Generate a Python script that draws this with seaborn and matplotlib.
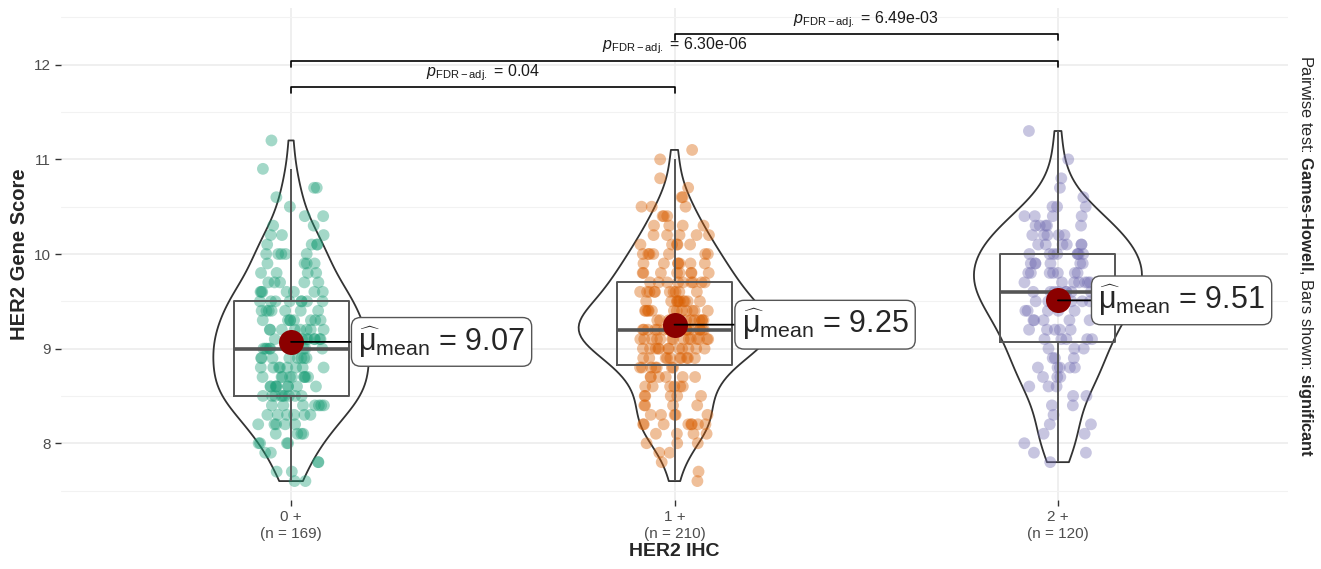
import numpy as np
import pandas as pd
import seaborn as sns
import matplotlib.pyplot as plt

groups = ["0 +", "1 +", "2 +"]

g0_values = [7.6, 7.7, 7.8, 7.9, 8.0, 8.1, 8.2, 8.3, 8.4, 8.5, 8.6, 8.7, 8.8, 8.9, 9.0, 9.1, 9.2,
             9.3, 9.4, 9.5, 9.6, 9.7, 9.8, 9.9, 10.0, 10.1, 10.2, 10.3, 10.4, 10.5, 10.6, 10.7, 10.9, 11.2]
g0_counts = [2, 2, 2, 2, 4, 4, 5, 6, 7, 9, 9, 9, 8, 8, 10, 9, 8,
             8, 7, 8, 7, 5, 4, 4, 5, 4, 3, 2, 2, 1, 1, 2, 1, 1]

g1_values = [7.6, 7.7, 7.8, 7.9, 8.0, 8.1, 8.2, 8.3, 8.4, 8.5, 8.6, 8.7, 8.8, 8.9, 9.0, 9.1, 9.2, 9.3,
             9.4, 9.5, 9.6, 9.7, 9.8, 9.9, 10.0, 10.1, 10.2, 10.3, 10.4, 10.5, 10.6, 10.7, 10.8, 11.0, 11.1]
g1_counts = [1, 1, 1, 2, 3, 4, 8, 5, 4, 5, 6, 6, 7, 10, 12, 14, 18, 14,
             12, 10, 10, 9, 8, 7, 7, 5, 5, 4, 3, 3, 2, 1, 1, 1, 1]

g2_values = [7.8, 7.9, 8.0, 8.1, 8.2, 8.3, 8.4, 8.5, 8.6, 8.7, 8.8, 8.9, 9.0, 9.1, 9.2, 9.3, 9.4,
             9.5, 9.6, 9.7, 9.8, 9.9, 10.0, 10.1, 10.2, 10.3, 10.4, 10.5, 10.6, 10.7, 10.8, 11.0, 11.3]
g2_counts = [1, 2, 1, 2, 2, 1, 2, 2, 3, 3, 5, 3, 3, 5, 5, 5, 5,
             6, 8, 7, 7, 6, 8, 6, 5, 5, 4, 3, 1, 1, 1, 1, 1]

# significant Games-Howell comparisons
pairs = [(0, 1), (0, 2), (1, 2)]
p_labels = ["0.04", "6.30e-06", "6.49e-03"]

colors = ["#1B9E77", "#D95F02", "#7570B3"]

values = [g0_values, g1_values, g2_values]
counts = [g0_counts, g1_counts, g2_counts]
df = pd.DataFrame({
    "HER2 IHC": np.repeat(groups, [sum(c) for c in counts]),
    "score": np.concatenate([np.repeat(v, c) for v, c in zip(values, counts)]),
})

sns.set_style("white")
plt.rcParams["font.family"] = ["Liberation Sans", "DejaVu Sans"]
plt.rcParams["mathtext.fontset"] = "custom"
plt.rcParams["mathtext.rm"] = "Liberation Sans"
plt.rcParams["mathtext.it"] = "Liberation Sans:italic"
plt.rcParams["mathtext.bf"] = "Liberation Sans:bold"

fig = plt.figure(figsize=(13.21, 5.69), dpi=100)
ax = fig.add_axes([61 / 1321, 69 / 569, 1227 / 1321, 492 / 569])

np.random.seed(3)
sns.stripplot(data=df, x="HER2 IHC", y="score", hue="HER2 IHC", palette=colors,
              jitter=0.09, size=8.5, alpha=0.4, linewidth=0, legend=False, ax=ax, zorder=2)
sns.boxplot(data=df, x="HER2 IHC", y="score", width=0.3, fill=False, color="#555555",
            showfliers=False, showcaps=False, linewidth=1.4,
            medianprops=dict(linewidth=2.6), ax=ax, zorder=3)
sns.violinplot(data=df, x="HER2 IHC", y="score", width=0.5, cut=0, inner=None, fill=False,
               color="#333333", linewidth=1.3, density_norm="area", bw_adjust=0.9, ax=ax)

# means with labels
means = df.groupby("HER2 IHC", sort=False)["score"].mean()
label_dx = [0.175, 0.175, 0.105]
for i, g in enumerate(groups):
    m = means[g]
    ax.scatter(i, m, s=18 ** 2, color="#8B0000", zorder=6, linewidths=0)
    ax.annotate(r"$\widehat{\mathrm{\mu}}_{\mathrm{mean}}$ = " + f"{m:.2f}", xy=(i, m),
                xytext=(i + label_dx[i], m), ha="left", va="center", fontsize=22, zorder=7,
                bbox=dict(boxstyle="round,pad=0.22,rounding_size=0.3", fc="white", ec="#555555", lw=1),
                arrowprops=dict(arrowstyle="-", color="black", lw=1.3, shrinkA=0, shrinkB=0))

# significance brackets
bracket_y = [11.76, 12.04, 12.32]
tip = 0.06
for (a, b), lab, y in zip(pairs, p_labels, bracket_y):
    ax.plot([a, a, b, b], [y - tip, y, y, y - tip], color="black", lw=1.2, zorder=5)
    ax.text((a + b) / 2, y + 0.05, r"$p_{\mathrm{FDR-adj.}}$ = " + lab, ha="center", va="bottom",
            fontsize=11.5, color="#1a1a1a")

ax.set_xlim(-0.6, 2.6)
ax.set_ylim(7.4, 12.6)
ax.set_yticks([8, 9, 10, 11, 12])
ax.set_yticks([7.5, 8.5, 9.5, 10.5, 11.5, 12.5], minor=True)
ax.set_xticks(range(3))
ax.set_xticklabels([f"{g}\n(n = {sum(c)})" for g, c in zip(groups, counts)])
ax.grid(True, which="major", color="#EBEBEB", lw=1.1, zorder=0)
ax.grid(True, which="minor", axis="y", color="#F2F2F2", lw=0.8, zorder=0)
ax.set_axisbelow(True)
for s in ax.spines.values():
    s.set_visible(False)
ax.tick_params(axis="both", which="major", length=4, width=1, color="#333333",
               labelcolor="#4D4D4D", labelsize=11, left=True, bottom=True)
ax.tick_params(axis="y", which="minor", length=0)

ax.set_xlabel("HER2 IHC", fontsize=14, fontweight="bold", labelpad=2)
ax.set_ylabel("HER2 Gene Score", fontsize=14.5, fontweight="bold", labelpad=3)

fig.text(0.988, 0.55,
         r"Pairwise test: $\mathbf{Games}$-$\mathbf{Howell}$, Bars shown: $\mathbf{significant}$",
         rotation=-90, ha="center", va="center", fontsize=11.8)

fig.savefig("out.png", dpi=100)
